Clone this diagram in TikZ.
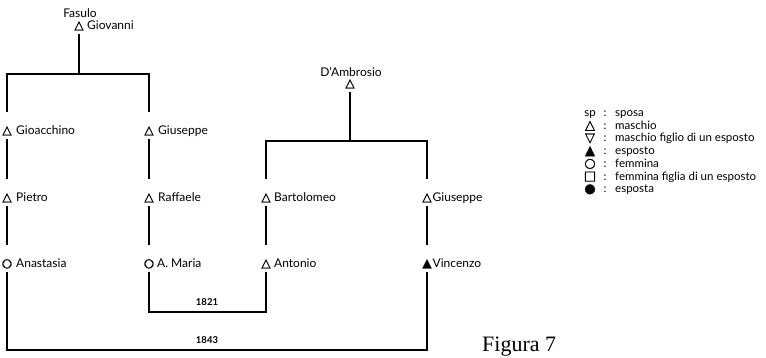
\documentclass[tikz,border=0pt]{standalone}
\usepackage{fontspec}
\setmainfont{Lato}
\newfontfamily\symfont[FakeBold=1.2]{DejaVu Sans}
\newfontfamily\capfont{Liberation Serif}
\begin{document}
\begin{tikzpicture}[x=1pt,y=-1pt,
  line/.style={line width=1.1pt, line cap=rect},
  sym/.style={font=\symfont\fontsize{12}{12}\selectfont, inner sep=0pt, anchor=base,
              text height=22pt, text depth=5pt},
  nm/.style={font=\fontsize{12}{12}\selectfont, inner sep=0pt, anchor=base west},
  fam/.style={font=\fontsize{12}{12}\selectfont, inner sep=0pt, anchor=base},
  yr/.style={font=\bfseries\fontsize{9.5}{9.5}\selectfont, inner sep=0pt, anchor=base},
  lsym/.style={font=\symfont\fontsize{13}{13}\selectfont, inner sep=0pt, anchor=base},
  ltxt/.style={font=\fontsize{11.5}{11.5}\selectfont, inner sep=0pt, anchor=base west},
]
\useasboundingbox (0,0) rectangle (766,357);

% family names
\node[fam] (fasulo) at (80,17) {Fasulo};
\node[fam] (dambr) at (351,76) {D’Ambrosio};

% people: symbol node + name
\node[sym] (giovanni) at (79,29) {△};
\node[nm] (giovanniN) at (87,29) {Giovanni};
\node[sym] (dambrosio) at (350,87) {△};

\node[sym] (gioacchino) at (7,134) {△};
\node[nm] (gioacchinoN) at (16,134) {Gioacchino};
\node[sym] (giuseppeA) at (149,134) {△};
\node[nm] (giuseppeAN) at (158,134) {Giuseppe};

\node[sym] (pietro) at (7,201) {△};
\node[nm] (pietroN) at (16,201) {Pietro};
\node[sym] (raffaele) at (149,201) {△};
\node[nm] (raffaeleN) at (158,201) {Raffaele};
\node[sym] (bartolomeo) at (266,201) {△};
\node[nm] (bartolomeoN) at (274,201) {Bartolomeo};
\node[sym] (giuseppeB) at (427,201) {△};
\node[nm] (giuseppeBN) at (432.5,201) {Giuseppe};

\node[sym] (anastasia) at (7,267) {○};
\node[nm] (anastasiaN) at (16,267) {Anastasia};
\node[sym] (amaria) at (149,267) {○};
\node[nm] (amariaN) at (157,267) {A. Maria};
\node[sym] (antonio) at (266,267) {△};
\node[nm] (antonioN) at (274,267) {Antonio};
\node[sym] (vincenzo) at (427,267) {▲};
\node[nm] (vincenzoN) at (432.5,267) {Vincenzo};

% descent lines
\coordinate (fbar) at (79,74);
\coordinate (dbar) at (350,141);
\draw[line] (giovanni.south) -- (fbar);
\draw[line] (gioacchino.north) |- (fbar) -| (giuseppeA.north);
\draw[line] (dambrosio.south) -- (dbar);
\draw[line] (bartolomeo.north) |- (dbar) -| (giuseppeB.north);

\draw[line] (gioacchino.south) -- (pietro.north);
\draw[line] (pietro.south) -- (anastasia.north);
\draw[line] (giuseppeA.south) -- (raffaele.north);
\draw[line] (raffaele.south) -- (amaria.north);
\draw[line] (bartolomeo.south) -- (antonio.north);
\draw[line] (giuseppeB.south) -- (vincenzo.north);

% marriages
\coordinate (m1821) at (207,312);
\coordinate (m1843) at (207,350);
\draw[line] (amaria.south) |- (m1821) -| (antonio.south);
\draw[line] (anastasia.south) |- (m1843) -| (vincenzo.south);
\node[yr] (y1821) at (207,305.5) {1821};
\node[yr] (y1843) at (207,343.5) {1843};

% legend
\foreach \s/\t [count=\i from 0] in
  {{\fontspec{Lato}\fontsize{11.5}{11.5}\selectfont sp}/sposa, △/maschio,
   ▽/maschio figlio di un esposto, ▲/esposto, ○/femmina,
   □/femmina figlia di un esposto, ●/esposta}{
  \node[lsym] (lsym\i) at (590,{116.5+12.7*\i}) {\s};
  \node[ltxt] (lcol\i) at (603.5,{116.5+12.7*\i}) {:};
  \node[ltxt] (ltxt\i) at (615,{116.5+12.7*\i}) {\t};
}

\node[font=\capfont\fontsize{22}{22}\selectfont, inner sep=0pt, anchor=base west]
  (caption) at (482,351) {Figura 7};
\end{tikzpicture}
\end{document}
